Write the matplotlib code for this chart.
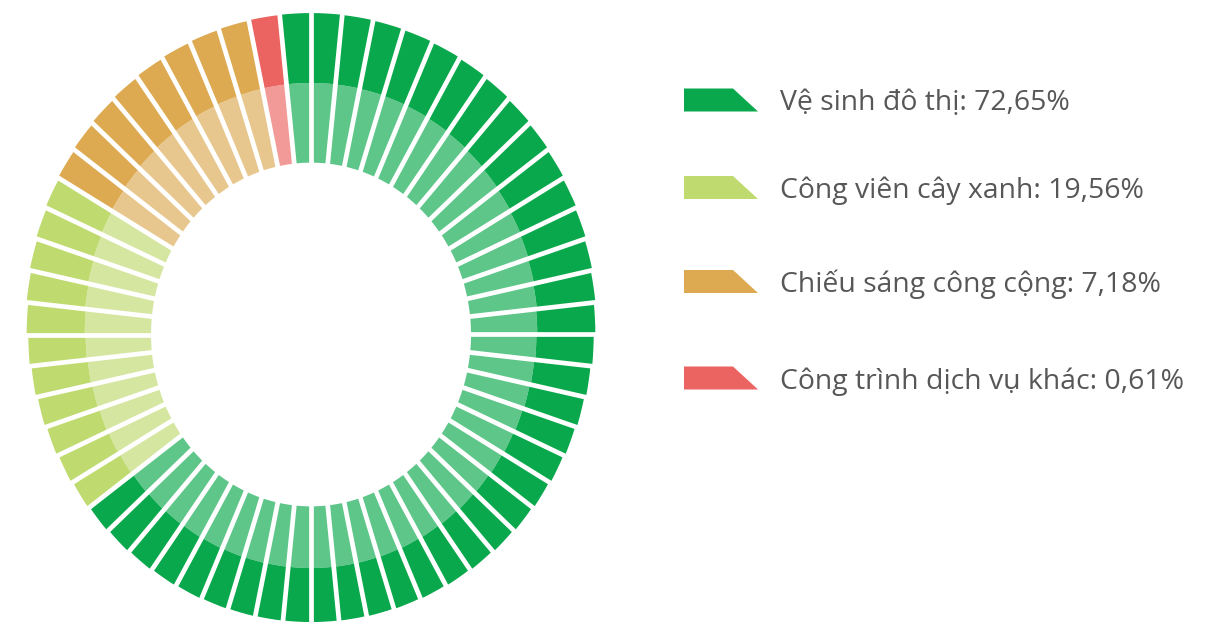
import numpy as np
import matplotlib.pyplot as plt
from matplotlib.patches import Polygon

plt.rcParams['font.family'] = ['Open Sans', 'DejaVu Sans']

# data
categories = ['Vệ sinh đô thị', 'Công viên cây xanh', 'Chiếu sáng công cộng', 'Công trình dịch vụ khác']
shares = [72.65, 19.56, 7.18, 0.61]
segments = [40, 11, 8, 1]   # bars per category as drawn on the ring
colors = ['#0aa84c', '#bfda6e', '#ddaa52', '#ec6461']

n_total = sum(segments)
step = 2 * np.pi / n_total
seg_color = np.repeat(colors, segments)
theta = (np.arange(n_total) - 0.5) * step

# ring is slightly tilted: outer edge sits higher than the hole
r_in = np.full(n_total, 160.0)
r_mid = 225.8 + 8.4 * np.cos(theta)
r_out = 283.5 + 15.8 * np.cos(theta)

fig = plt.figure(figsize=(12.27, 6.25), dpi=100)
ax = fig.add_axes([11 / 1227, -31.7 / 625, 600 / 1227, 644.4 / 625], projection='polar')
ax.set_theta_zero_location('N')
ax.set_theta_direction(-1)
ax.set_ylim(0, 300)
ax.set_aspect('auto')
ax.axis('off')

ax.bar(theta, r_mid - r_in, width=step, bottom=r_in, color=seg_color, alpha=0.65, linewidth=0)
ax.bar(theta, r_out - r_mid, width=step, bottom=r_mid, color=seg_color, linewidth=0)

# white gaps between bars
for b in theta - step / 2:
    ax.plot([b, b], [140, 310], color='white', lw=3.4, solid_capstyle='butt')

# legend
lax = fig.add_axes([0, 0, 1, 1])
lax.set_xlim(0, 1227)
lax.set_ylim(625, 0)
lax.axis('off')

row_y = [100, 187.5, 281.5, 378]
for name, val, col, y in zip(categories, shares, colors, row_y):
    lax.add_patch(Polygon([(684, y - 11.5), (733, y - 11.5), (758, y + 11.5), (684, y + 11.5)],
                          closed=True, facecolor=col, edgecolor='none'))
    label = '{}: {}%'.format(name, '{:.2f}'.format(val).replace('.', ','))
    lax.text(780, y + 10.5, label, fontsize=20.4, color='#575757', va='baseline', ha='left')

fig.savefig('out.png', dpi=100)
